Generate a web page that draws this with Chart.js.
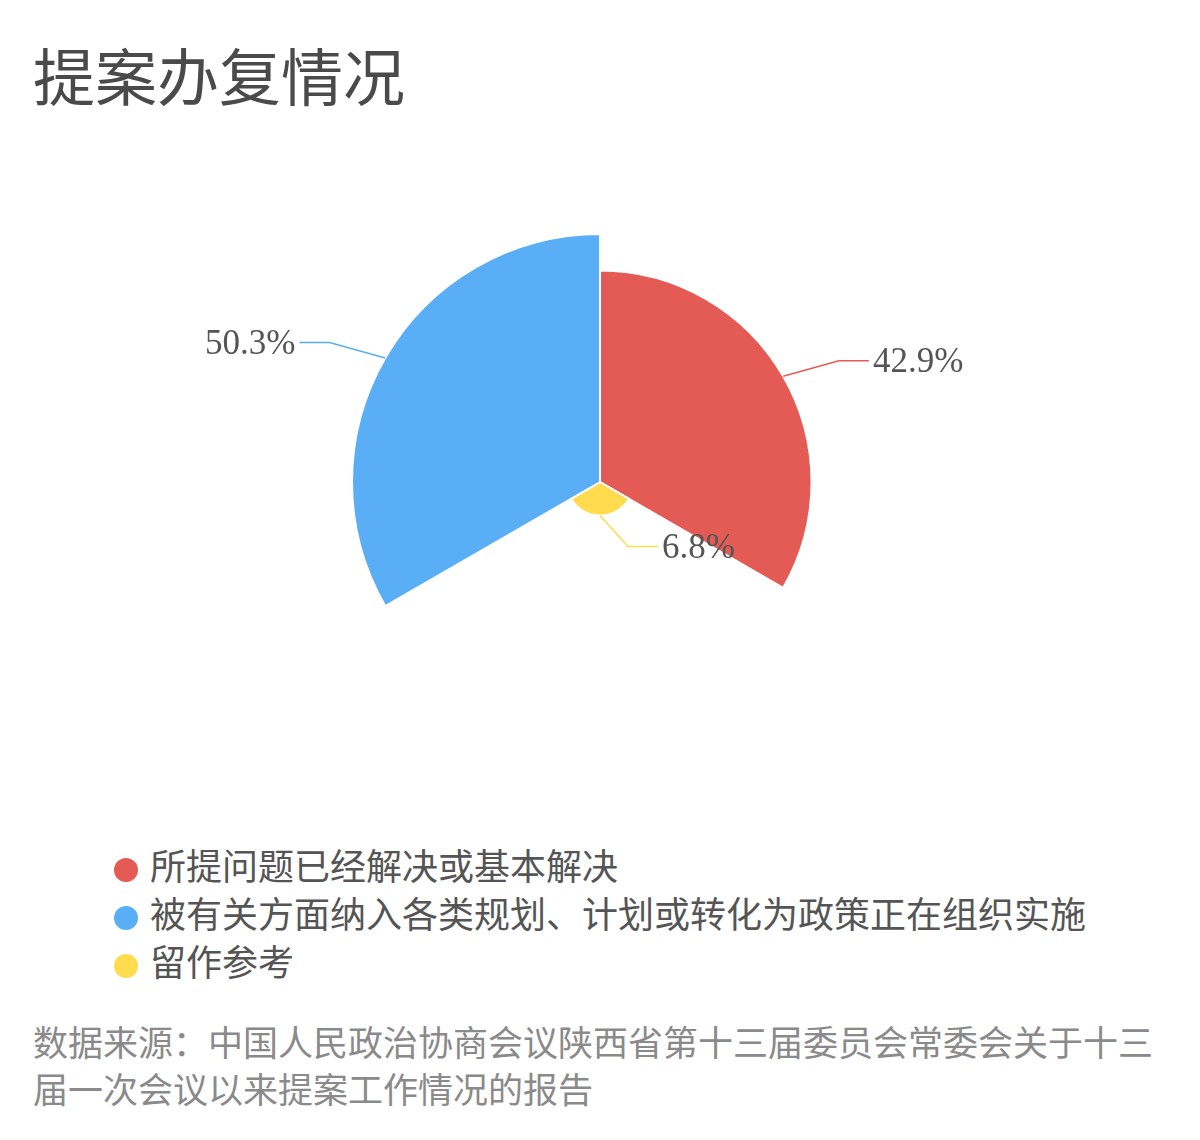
<!DOCTYPE html>
<html>
<head>
<meta charset="utf-8">
<script src="https://cdn.jsdelivr.net/npm/chart.js@4"></script>
<style>
  body { margin:0; width:1200px; height:1140px; background:#fff; position:relative; overflow:hidden;
         font-family:'Liberation Serif','Noto Sans CJK SC',serif; }
  #title { position:absolute; left:33px; top:49px; font-size:62px; line-height:62px; color:#4a4a4a; white-space:nowrap; }
  #chartBox { position:absolute; left:0; top:234px; width:1200px; height:496px; }
  #legend { position:absolute; left:114px; top:844px; }
  #legend .item { height:48px; line-height:48px; font-size:36px; color:#555; white-space:nowrap; }
  #legend .dot { display:inline-block; width:24px; height:24px; border-radius:50%; margin-right:12px; vertical-align:-2px; }
  #source { position:absolute; left:33px; top:1021px; width:1125px; font-size:35px; line-height:47px; color:#8a8a8a; }
</style>
</head>
<body>
<div id="title">提案办复情况</div>
<div id="chartBox"><canvas id="chart"></canvas></div>
<div id="legend"></div>
<div id="source">数据来源：中国人民政治协商会议陕西省第十三届委员会常委会关于十三届一次会议以来提案工作情况的报告</div>
<script>
const categories = ['所提问题已经解决或基本解决', '被有关方面纳入各类规划、计划或转化为政策正在组织实施', '留作参考'];
const shares = [42.9, 50.3, 6.8];
const colors = ['#e45b55', '#5aaef5', '#ffdb4e'];
// clockwise order of the slices from the top
const drawOrder = [0, 2, 1];

// html legend, one item per row
const legend = document.getElementById('legend');
categories.forEach((c, i) => {
  const d = document.createElement('div');
  d.className = 'item';
  d.innerHTML = `<span class="dot" style="background:${colors[i]}"></span>${c}`;
  legend.appendChild(d);
});

const sliceShares = drawOrder.map(i => shares[i]);
const sliceColors = drawOrder.map(i => colors[i]);

// outside labels with elbow leader lines
const leaderLabels = {
  id: 'leaderLabels',
  afterDatasetsDraw(chart) {
    const ctx = chart.ctx;
    chart.getDatasetMeta(0).data.forEach((arc, i) => {
      const mid = (arc.startAngle + arc.endAngle) / 2;
      const cos = Math.cos(mid), sin = Math.sin(mid);
      const side = cos >= -0.01 ? 1 : -1;
      const x0 = arc.x + cos * arc.outerRadius, y0 = arc.y + sin * arc.outerRadius;
      const x1 = x0 + side * (28 + Math.abs(cos) * 32), y1 = y0 + sin * 31;
      const x2 = x1 + side * 30;
      ctx.save();
      ctx.strokeStyle = sliceColors[i];
      ctx.lineWidth = 1.5;
      ctx.beginPath();
      ctx.moveTo(x0, y0); ctx.lineTo(x1, y1); ctx.lineTo(x2, y1);
      ctx.stroke();
      ctx.fillStyle = '#555';
      ctx.font = "35px 'Liberation Serif'";
      ctx.textBaseline = 'middle';
      ctx.textAlign = side > 0 ? 'left' : 'right';
      ctx.fillText(sliceShares[i] + '%', x2 + side * 4, y1 + 2);
      ctx.restore();
    });
  }
};

new Chart(document.getElementById('chart'), {
  type: 'polarArea',
  data: {
    labels: drawOrder.map(i => categories[i]),
    datasets: [{ data: sliceShares, backgroundColor: sliceColors, borderColor: '#fff', borderWidth: 2 }]
  },
  options: {
    responsive: true,
    maintainAspectRatio: false,
    animation: false,
    layout: { padding: 0 },
    plugins: { legend: { display: false }, tooltip: { enabled: false } },
    scales: {
      r: {
        min: 0, max: Math.max(...shares),
        ticks: { display: false },
        grid: { display: false },
        angleLines: { display: false },
        pointLabels: { display: false }
      }
    }
  },
  plugins: [leaderLabels]
});
</script>
</body>
</html>
